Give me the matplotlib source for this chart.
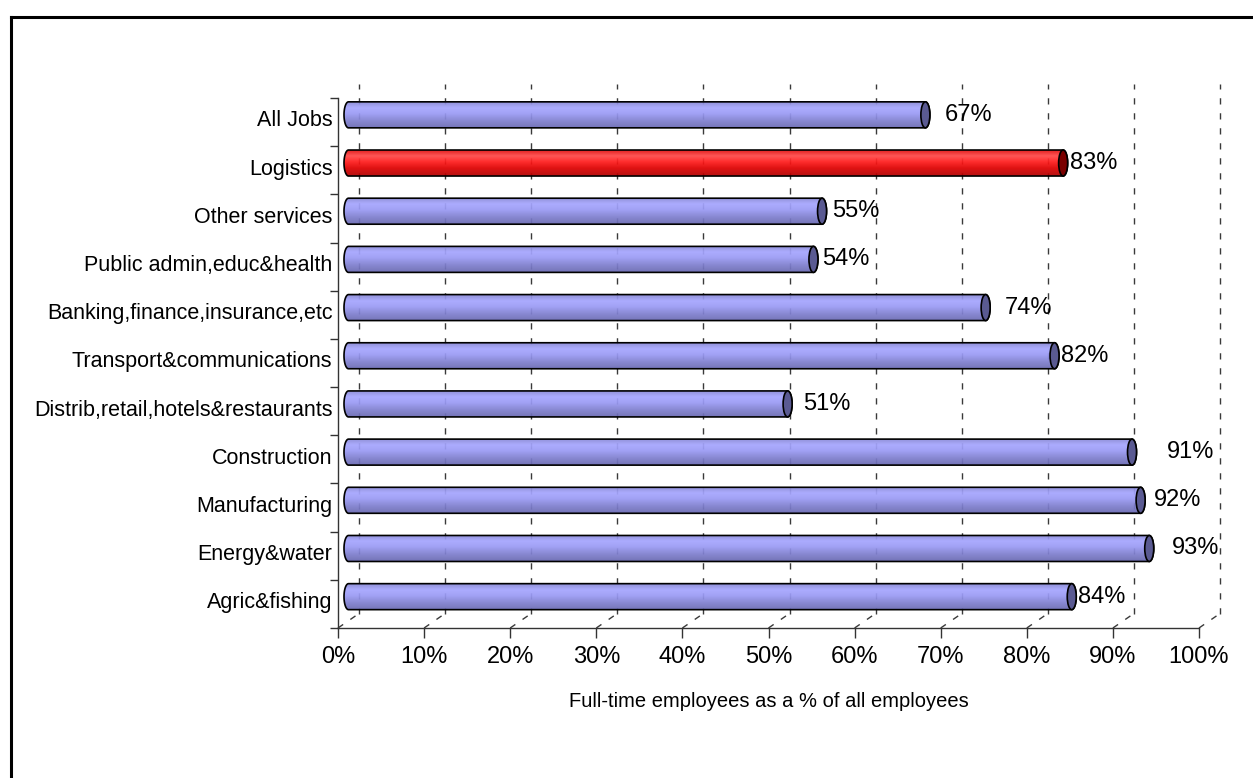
"""
Full-time share of employees by sector, drawn as Excel-style 3-D cylinders.
"""
import matplotlib
matplotlib.use("Agg")
import matplotlib.pyplot as plt
import numpy as np
from matplotlib.colors import LinearSegmentedColormap
from matplotlib.lines import Line2D
from matplotlib.patches import Ellipse, Polygon

plt.rcParams["font.family"] = ["Liberation Sans", "DejaVu Sans"]
plt.rcParams["lines.scale_dashes"] = False

# ── Data (top to bottom) ──────────────────────────────────────────────────────

sectors = [
    "All Jobs",
    "Logistics",
    "Other services",
    "Public admin,educ&health",
    "Banking,finance,insurance,etc",
    "Transport&communications",
    "Distrib,retail,hotels&restaurants",
    "Construction",
    "Manufacturing",
    "Energy&water",
    "Agric&fishing",
]
full_time_pct = [67, 83, 55, 54, 74, 82, 51, 91, 92, 93, 84]
highlight = ["Logistics"]

x_ticks = list(range(0, 101, 10))
x_tick_labels = [f"{t}%" for t in x_ticks]

# Extra gap (pixels) between each cylinder cap and its value label
label_gap_px = [15, 2, 6, 4, 15, 2, 11, 30, 9, 18, 2]

# ── Geometry ──────────────────────────────────────────────────────────────────

W, H, DPI = 1253, 778, 100
AX_L, AX_R, AX_TOP, AX_BOT = 338, 1199, 98, 628     # front plane, pixels
DEPTH_DX, DEPTH_DY = 21, 14.5                         # back plane offset, px
BAR_HALF_H, CAP_RX = 13, 4.5                          # cylinder size, px

n = len(sectors)
px_x = (AX_R - AX_L) / 100.0        # pixels per percent
px_y = (AX_BOT - AX_TOP) / n        # pixels per category

dxf, dyf = DEPTH_DX / px_x, DEPTH_DY / px_y
dxm, dym = dxf / 2, dyf / 2
half_h = BAR_HALF_H / px_y
rx = CAP_RX / px_x

blue_cmap = LinearSegmentedColormap.from_list(
    "cyl_blue",
    [(0.0, "#8a8ad8"), (0.22, "#a6a6ff"), (0.45, "#9a9af4"),
     (0.7, "#8282d2"), (1.0, "#6a6ab2")])
red_cmap = LinearSegmentedColormap.from_list(
    "cyl_red",
    [(0.0, "#e01010"), (0.22, "#ff4a4a"), (0.45, "#ff1c1c"),
     (0.7, "#dd0000"), (1.0, "#b00000")])

fig = plt.figure(figsize=(W / DPI, H / DPI), dpi=DPI)
ax = fig.add_axes([AX_L / W, 1 - AX_BOT / H, (AX_R - AX_L) / W, (AX_BOT - AX_TOP) / H])

# ── Back wall and floor grid ──────────────────────────────────────────────────

grid_kw = dict(color="#3a3a3a", lw=1.0, dashes=(4.5, 6.3), clip_on=False, zorder=1)
for t in x_ticks:
    ax.plot([t + dxf, t + dxf], [dyf, n + dyf], **grid_kw)
    ax.plot([t, t + dxf], [0, dyf], **grid_kw)

# ── Cylinders ─────────────────────────────────────────────────────────────────

grad = np.linspace(0, 1, 64).reshape(-1, 1)
for i, (name, val) in enumerate(zip(sectors, full_time_pct)):
    yc = (n - 1 - i) + 0.5 + dym
    x0, x1 = dxm, val + dxm
    cmap = red_cmap if name in highlight else blue_cmap
    cap_color = "#7a0000" if name in highlight else "#5a5a92"

    t_left = np.radians(np.linspace(90, 270, 40))
    t_right = np.radians(np.linspace(-90, 90, 40))
    pts = np.vstack([
        np.column_stack([x0 + rx * np.cos(t_left), yc + half_h * np.sin(t_left)]),
        np.column_stack([x1 + rx * np.cos(t_right), yc + half_h * np.sin(t_right)]),
    ])
    body = Polygon(pts, closed=True, transform=ax.transData)

    im = ax.imshow(grad, cmap=cmap, aspect="auto", origin="upper",
                   extent=[x0 - rx, x1 + rx, yc - half_h, yc + half_h],
                   interpolation="bilinear", alpha=0.93, zorder=2)
    im.set_clip_path(body)
    ax.add_patch(Polygon(pts, closed=True, fill=False, ec="black", lw=1.2, zorder=3))
    ax.add_patch(Ellipse((x1, yc), 2 * rx, 2 * half_h, fc=cap_color,
                         ec="black", lw=1.2, zorder=4))

    ax.annotate(f"{val}%", xy=(x1 + rx, yc),
                xytext=(label_gap_px[i] * 72 / DPI, 0), textcoords="offset points",
                ha="left", va="center", fontsize=17, zorder=5)

# ── Axes ──────────────────────────────────────────────────────────────────────

ax.set_xlim(0, 100)
ax.set_ylim(0, n)
for side in ("top", "right"):
    ax.spines[side].set_visible(False)
for side in ("left", "bottom"):
    ax.spines[side].set_color("#333333")
    ax.spines[side].set_linewidth(1.0)
    ax.spines[side].set_zorder(6)

ax.set_xticks(x_ticks)
ax.set_xticklabels(x_tick_labels, fontsize=17)
ax.tick_params(axis="x", length=7, width=1.0, color="#333333", pad=6)

ax.set_yticks(range(n + 1))
ax.set_yticklabels([])
ax.tick_params(axis="y", which="major", length=6, width=1.0, color="#333333")
ax.set_yticks([k + 0.5 + dym / 2 for k in range(n)], minor=True)
ax.set_yticklabels(sectors[::-1], minor=True, fontsize=15.5)
ax.tick_params(axis="y", which="minor", length=0, pad=4)

ax.set_xlabel("Full-time employees as a % of all employees", fontsize=14.5, labelpad=17)

# Chart-area border (left and top edges)
fig.add_artist(Line2D([10.5 / W, 10.5 / W], [0, 1 - 16.5 / H], color="black",
                      lw=2.2, transform=fig.transFigure))
fig.add_artist(Line2D([10.5 / W, 1], [1 - 16.5 / H, 1 - 16.5 / H], color="black",
                      lw=2.2, transform=fig.transFigure))

fig.savefig("out.png", dpi=DPI)
plt.close(fig)
